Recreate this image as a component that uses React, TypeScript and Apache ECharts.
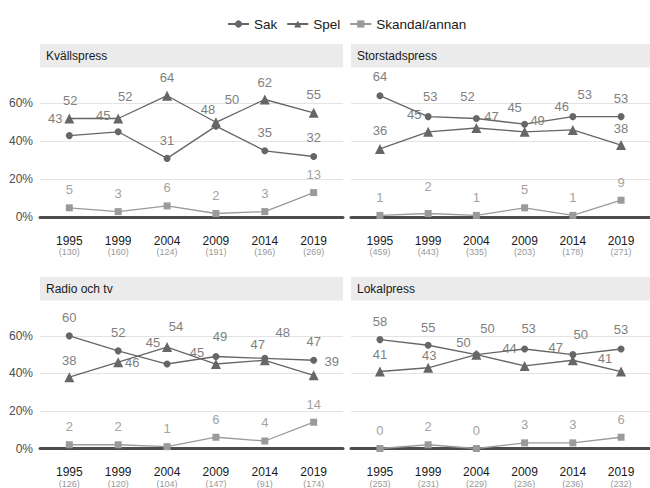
import React, { useEffect, useRef } from "react";
import * as echarts from "echarts";

const years = ["1995", "1999", "2004", "2009", "2014", "2019"];
const panelTitles = ["Kvällspress", "Storstadspress", "Radio och tv", "Lokalpress"];
const seriesNames = ["Sak", "Spel", "Skandal/annan"];

const kvallSak = [43, 45, 31, 48, 35, 32];
const kvallSpel = [52, 52, 64, 50, 62, 55];
const kvallSkandal = [5, 3, 6, 2, 3, 13];
const kvallN = [130, 160, 124, 191, 196, 269];

const storSak = [64, 53, 52, 49, 53, 53];
const storSpel = [36, 45, 47, 45, 46, 38];
const storSkandal = [1, 2, 1, 5, 1, 9];
const storN = [459, 443, 335, 203, 178, 271];

const radioSak = [60, 52, 45, 49, 48, 47];
const radioSpel = [38, 46, 54, 45, 47, 39];
const radioSkandal = [2, 2, 1, 6, 4, 14];
const radioN = [126, 120, 104, 147, 91, 174];

const lokalSak = [58, 55, 50, 53, 50, 53];
const lokalSpel = [41, 43, 50, 44, 47, 41];
const lokalSkandal = [0, 2, 0, 3, 3, 6];
const lokalN = [253, 231, 229, 236, 236, 232];

const yTicks = [0, 20, 40, 60];

// label nudges (style only), [dx, dy] from point centre
const D: [number, number] = [0, -18];
const nudges: [number, number][][][] = [
  [
    [[-14, -17], [-15, -16], [0, -18], [-8, -17], [0, -18], [0, -19]],
    [[1, -18], [7, -22], [0, -18], [16, -23], [0, -17], [0, -18]],
    [D, D, D, D, D, D],
  ],
  [
    [[0, -19], [2, -20], [-9, -22], [13, -4], [12, -22], [0, -18]],
    [[0, -18], [-14, -17], [15, -12], [-10, -24], [-11, -23], [0, -17]],
    [D, [0, -27], D, D, D, D],
  ],
  [
    [[0, -18], [0, -18], [-14, -22], [4, -20], [18, -26], [0, -19]],
    [[0, -17], [14, 0], [9, -21], [-19, -12], [-7, -16], [18, -14]],
    [D, D, D, D, D, D],
  ],
  [
    [[0, -18], [0, -18], [11, -26], [4, -20], [8, -20], [0, -19]],
    [[0, -17], [1, -12], [-13, -12], [-15, -17], [-17, -13], [-16, -13]],
    [D, D, D, D, D, D],
  ],
];

const panelData = [
  [kvallSak, kvallSpel, kvallSkandal],
  [storSak, storSpel, storSkandal],
  [radioSak, radioSpel, radioSkandal],
  [lokalSak, lokalSpel, lokalSkandal],
];
const panelN = [kvallN, storN, radioN, lokalN];

const FONT = "'Liberation Sans', Arial, Helvetica, sans-serif";

export default function App() {
  const ref = useRef<HTMLDivElement>(null);
  useEffect(() => {
    if (!ref.current) return;
    const chart = echarts.init(ref.current, undefined, { renderer: "svg" });

    const lefts = [40, 351, 40, 351];
    const tops = [65.3, 65.3, 298.3, 298.3];
    const W = 303;
    const H = 152;
    const stripTops = [44, 44, 277, 277];

    const symbols = ["circle", "triangle", "rect"];
    const symSizes = [7, 10, 7];
    const lineColors = ["#666666", "#666666", "#9a9a9a"];
    const labelColors = ["#7f7f7f", "#7f7f7f", "#a3a3a3"];

    const grid: any[] = [];
    const xAxis: any[] = [];
    const yAxis: any[] = [];
    const series: any[] = [];
    const graphic: any[] = [];

    for (let p = 0; p < 4; p++) {
      grid.push({ left: lefts[p], top: tops[p], width: W, height: H, containLabel: false });
      const nArr = panelN[p];
      xAxis.push({
        type: "value",
        gridIndex: p,
        min: -0.6,
        max: 5.6,
        splitLine: { show: false },
        axisTick: { show: false },
        axisLine: { show: true, onZero: false, lineStyle: { color: "#4d4d4d", width: 3 } },
        axisLabel: {
          customValues: [0, 1, 2, 3, 4, 5],
          margin: 17,
          formatter: (v: number) => {
            const i = Math.round(v);
            return `{y|${years[i]}}\n{n|(${nArr[i]})}`;
          },
          rich: {
            y: { fontSize: 12, color: "#1a1a1a", fontFamily: FONT, lineHeight: 13 },
            n: { fontSize: 9, color: "#999999", fontFamily: FONT, lineHeight: 10 },
          },
        },
      });
      yAxis.push({
        type: "value",
        gridIndex: p,
        min: 0,
        max: 80,
        interval: 20,
        axisLine: { show: false },
        axisTick: { show: false },
        splitLine: { show: true, lineStyle: { color: "#e3e3e3", width: 1 } },
        axisLabel: {
          show: p % 2 === 0,
          customValues: yTicks,
          formatter: (v: number) => `${v}%`,
          color: "#4d4d4d",
          fontSize: 12,
          fontFamily: FONT,
          margin: 7,
        },
      });
      for (let s = 0; s < 3; s++) {
        const vals = panelData[p][s];
        series.push({
          type: "line",
          name: seriesNames[s],
          xAxisIndex: p,
          yAxisIndex: p,
          symbol: symbols[s],
          symbolSize: symSizes[s],
          clip: false,
          z: 3 - s + 2,
          lineStyle: { color: lineColors[s], width: 1.3 },
          itemStyle: { color: lineColors[s] },
          label: {
            show: true,
            position: "inside",
            color: labelColors[s],
            textBorderWidth: 0,
            textBorderColor: "transparent",
            fontSize: 13,
            fontFamily: FONT,
            formatter: (prm: any) => `${prm.value[1]}`,
          },
          emphasis: { disabled: true },
          data: vals.map((v, i) => ({
            value: [i, v],
            label: { offset: nudges[p][s][i] },
          })),
        });
      }
      graphic.push({
        type: "rect",
        z: 50,
        shape: { x: lefts[p], y: stripTops[p], width: W, height: 23.5 },
        style: { fill: "#ebebeb" },
      });
      graphic.push({
        type: "text",
        z: 51,
        x: lefts[p] + 6,
        y: stripTops[p] + 12,
        style: {
          text: panelTitles[p],
          fill: "#1a1a1a",
          fontSize: 12,
          fontFamily: FONT,
          verticalAlign: "middle",
          align: "left",
        },
      });
    }

    chart.setOption({
      animation: false,
      backgroundColor: "#ffffff",
      textStyle: { fontFamily: FONT },
      legend: {
        top: 12,
        left: 222,
        itemWidth: 21,
        itemHeight: 9,
        itemGap: 9,
        textStyle: { fontSize: 13.5, color: "#1a1a1a", fontFamily: FONT },
        data: seriesNames,
      },
      grid,
      xAxis,
      yAxis,
      series,
      graphic,
    });
    return () => chart.dispose();
  }, []);
  return (
    <div
      ref={ref}
      style={{ position: "absolute", left: 0, top: 0, width: 650, height: 488 }}
    />
  );
}
